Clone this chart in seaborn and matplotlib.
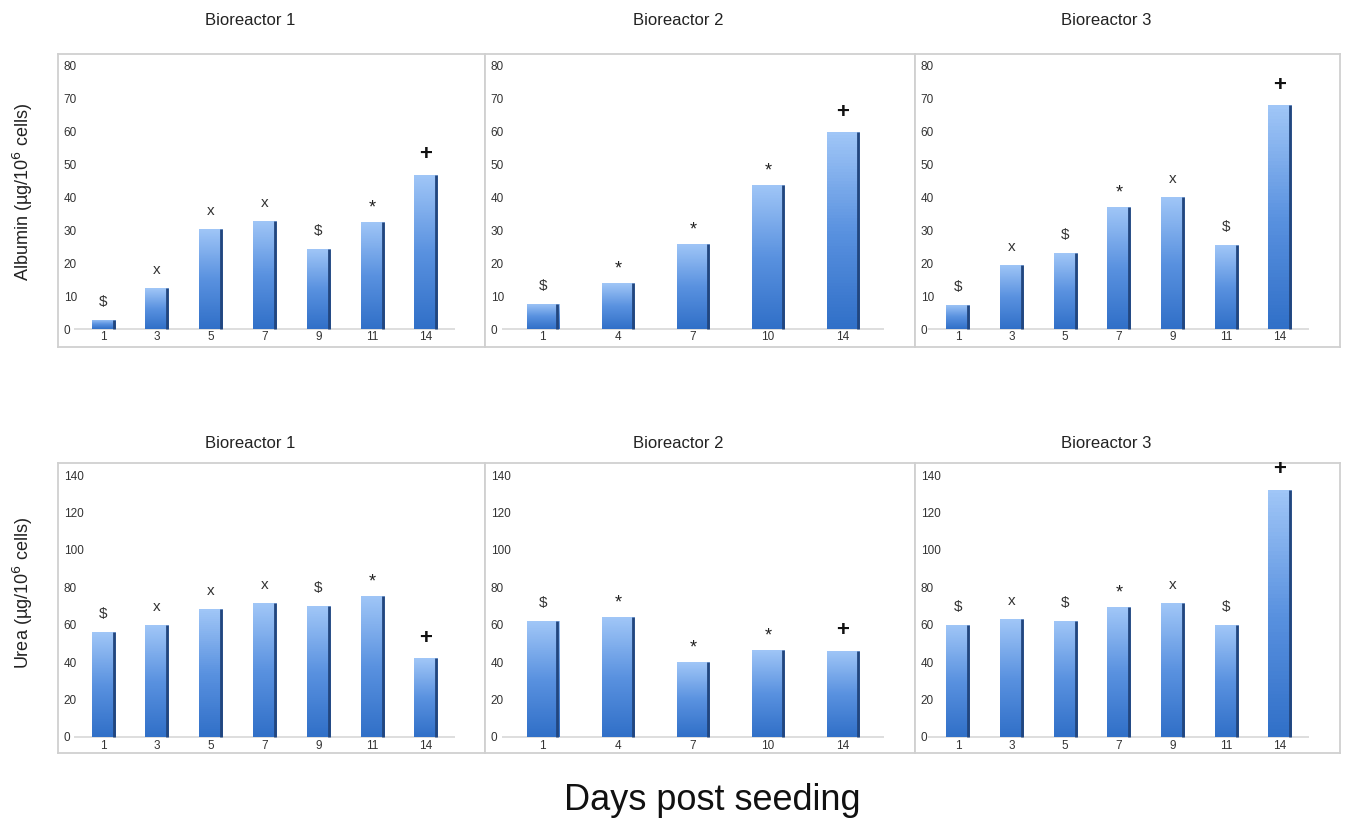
import matplotlib
matplotlib.use("Agg")
import matplotlib.pyplot as plt
from matplotlib.colors import LinearSegmentedColormap
import seaborn as sns
import numpy as np
import pandas as pd

# days sampled per bioreactor
days_b1 = ["1", "3", "5", "7", "9", "11", "14"]
days_b2 = ["1", "4", "7", "10", "14"]
days_b3 = ["1", "3", "5", "7", "9", "11", "14"]

# albumin (ug/10^6 cells)
albumin_b1 = [2.8, 12.4, 30.3, 32.8, 24.3, 32.5, 46.8]
albumin_b2 = [7.6, 13.9, 25.8, 43.7, 59.6]
albumin_b3 = [7.4, 19.4, 23.0, 37.0, 40.1, 25.4, 67.8]

# urea (ug/10^6 cells)
urea_b1 = [55.9, 59.8, 68.2, 71.4, 70.0, 75.4, 42.0]
urea_b2 = [61.8, 63.9, 39.9, 46.7, 46.0]
urea_b3 = [60.0, 62.8, 62.1, 69.3, 71.4, 59.6, 132.1]

# significance symbols above bars
marks_b1 = ["$", "x", "x", "x", "$", "*", "+"]
marks_b2 = ["$", "*", "*", "*", "+"]
marks_b3 = ["$", "x", "$", "*", "x", "$", "+"]

titles = ["Bioreactor 1", "Bioreactor 2", "Bioreactor 3"]
ylabels = ["Albumin (\u00b5g/10$^6$ cells)", "Urea (\u00b5g/10$^6$ cells)"]

sns.set_theme(style="white")
plt.rcParams["font.family"] = ["Liberation Sans", "DejaVu Sans"]

grad_cmap = LinearSegmentedColormap.from_list("bar", ["#3170c8", "#5a92e0", "#a0c6f7"])
grad = np.linspace(0, 1, 64).reshape(-1, 1)


def draw_panel(ax, days, values, marks, ylim, yticks, xlim, xpad):
    df = pd.DataFrame({"day": days, "value": values})
    sns.barplot(data=df, x="day", y="value", ax=ax, width=0.43, color="#5b93e0",
                saturation=1, linewidth=0)
    for bar, m in zip(ax.patches, marks):
        x0, w, h = bar.get_x(), bar.get_width(), bar.get_height()
        im = ax.imshow(grad, cmap=grad_cmap, aspect="auto", origin="lower",
                       extent=(x0, x0 + w, 0, h), zorder=3)
        im.set_clip_path(bar)
        ax.vlines(x0 + w - 0.02, 0, h, color="#22467e", lw=2.0, zorder=4)
        if m == "+":
            ax.annotate(m, (x0 + w / 2, h), xytext=(0, 7), textcoords="offset points",
                        ha="center", va="bottom", fontsize=16, fontweight="bold", color="#111")
        elif m == "*":
            ax.annotate(m, (x0 + w / 2, h), xytext=(0, 4), textcoords="offset points",
                        ha="center", va="bottom", fontsize=13, color="#222")
        else:
            ax.annotate(m, (x0 + w / 2, h), xytext=(0, 8), textcoords="offset points",
                        ha="center", va="bottom", fontsize=11, color="#333")
    n = len(days)
    ax.hlines(0, -0.55, n - 0.45, color="#d8d8d8", lw=1.2, zorder=2)
    ax.set_xlim(*xlim)
    ax.set_ylim(*ylim)
    ax.set_yticks(yticks)
    ax.set_xlabel("")
    ax.set_ylabel("")
    ax.tick_params(axis="y", length=0, pad=-4, labelsize=8.5, labelcolor="#333")
    ax.tick_params(axis="x", length=0, pad=xpad, labelsize=8.5, labelcolor="#333")
    for lbl in ax.get_yticklabels():
        lbl.set_horizontalalignment("left")
    for sp in ax.spines.values():
        sp.set_color("#d0d0d0")
        sp.set_linewidth(1.3)


fig = plt.figure(figsize=(13.47, 8.21), dpi=100)
lefts = [0.0431, 0.3601, 0.6793]
widths = [0.3170, 0.3192, 0.3155]
xlims = [(-0.84, 7.1), (-0.77, 4.96), (-0.8, 7.12)]
days_all = [days_b1, days_b2, days_b3]
alb_all = [albumin_b1, albumin_b2, albumin_b3]
urea_all = [urea_b1, urea_b2, urea_b3]
marks_all = [marks_b1, marks_b2, marks_b3]

for i in range(3):
    ax_top = fig.add_axes([lefts[i], 0.577, widths[i], 0.357])
    draw_panel(ax_top, days_all[i], alb_all[i], marks_all[i], (-5.5, 83.3),
               range(0, 81, 10), xlims[i], -11.5)
    ax_top.set_title(titles[i], x=0.45, pad=21, fontsize=12, color="#222")

    ax_bot = fig.add_axes([lefts[i], 0.083, widths[i], 0.353])
    draw_panel(ax_bot, days_all[i], urea_all[i], marks_all[i], (-8.5, 146.4),
               range(0, 141, 20), xlims[i], -9.5)
    ax_bot.set_title(titles[i], x=0.45, pad=11, fontsize=12, color="#222")

    if i == 0:
        ax_top.set_ylabel(ylabels[0], fontsize=13, color="#222")
        ax_top.yaxis.set_label_coords(-0.055, 0.53)
        ax_bot.set_ylabel(ylabels[1], fontsize=13, color="#222")
        ax_bot.yaxis.set_label_coords(-0.055, 0.55)

fig.text(0.529, 0.025, "Days post seeding", ha="center", va="center", fontsize=26, color="#111")

fig.savefig("out.png", dpi=100)
